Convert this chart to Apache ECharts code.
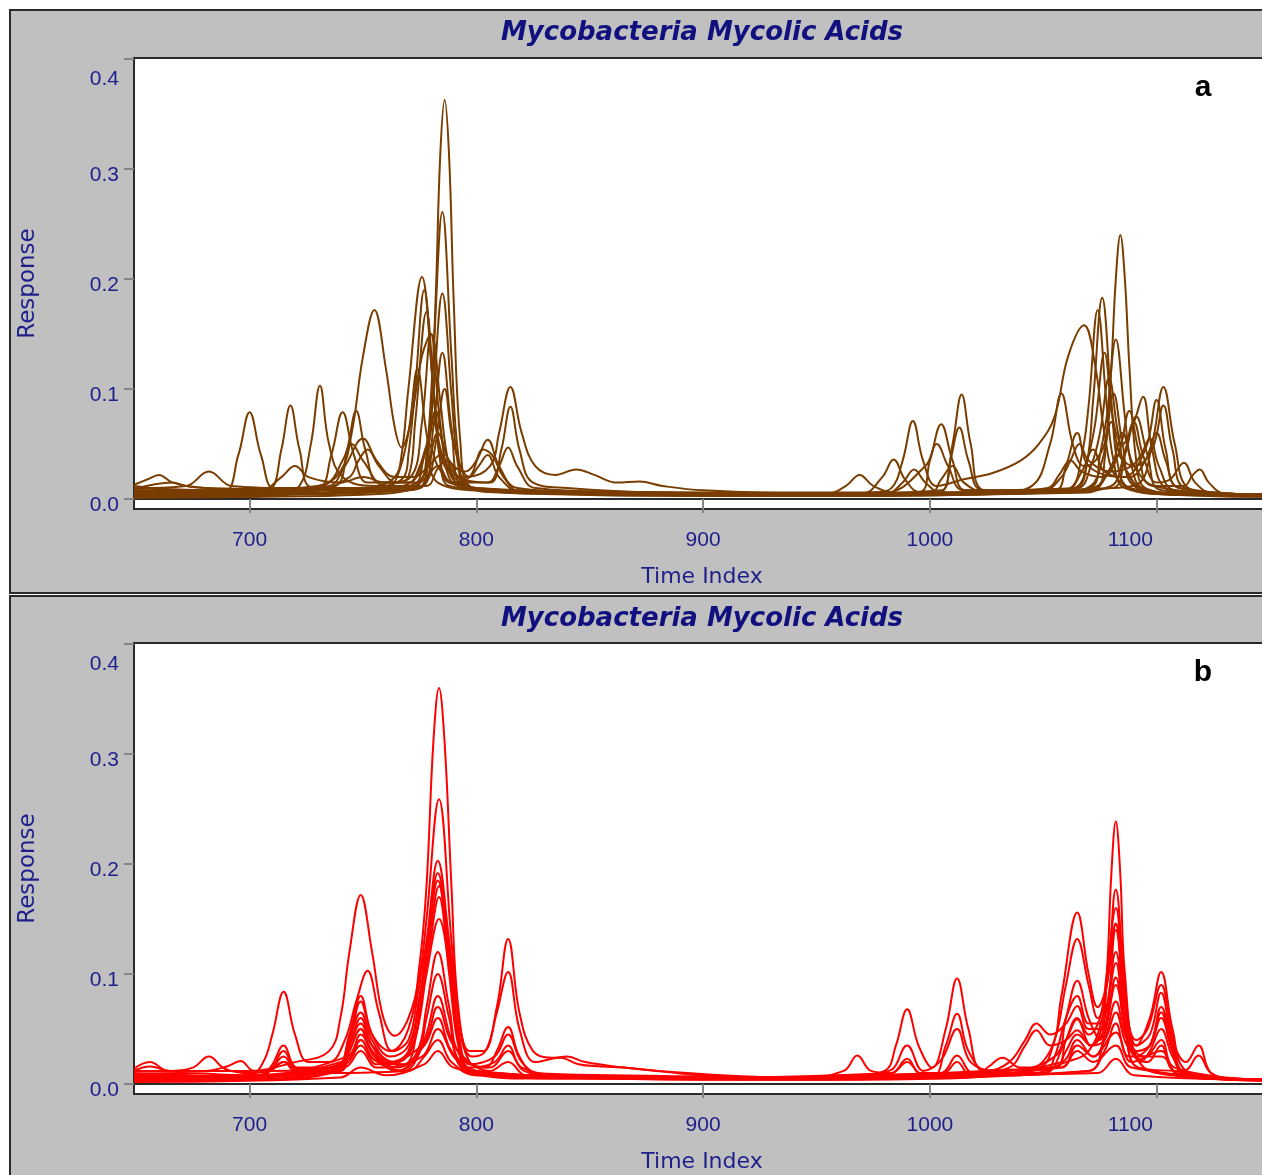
<!DOCTYPE html>
<html>
<head>
<meta charset="utf-8">
<title>Mycobacteria Mycolic Acids</title>
<script src="https://cdn.jsdelivr.net/npm/echarts@6.0.0/dist/echarts.min.js"></script>
<style>
  html, body { margin: 0; padding: 0; overflow: hidden; background: #ffffff; }
  #chart { width: 1300px; height: 1175px; }
</style>
</head>
<body>
<div id="chart"></div>
<script>
// Axis ticks
const timeTicks = [700, 800, 900, 1000, 1100];
const responseTicks = [0, 0.1, 0.2, 0.3, 0.4];

// Panel a: unaligned chromatograms, [time index, response]
const runA01 = [[649,.012],[662,.009],[680,.006],[700,.005],[730,.006],[755,.007],[768,.009],[776,.012],[779,.05],[782,.18],[784,.31],[786,.363],[788,.31],[790,.18],[793,.05],[797,.012],[810,.007],[850,.005],[900,.004],[950,.003],[1000,.004],[1040,.006],[1060,.008],[1074,.012],[1077,.035],[1080,.12],[1082,.2],[1084,.24],[1086,.2],[1088,.12],[1091,.035],[1095,.01],[1110,.005],[1150,.004]];
const runA02 = [[649,.004],[680,.004],[720,.005],[750,.008],[766,.01],[775,.015],[778,.04],[781,.13],[785,.261],[789,.13],[792,.04],[796,.012],[810,.006],[860,.004],[920,.003],[995,.004],[1005,.006],[1010,.05],[1014,.095],[1018,.05],[1024,.008],[1050,.006],[1064,.01],[1069,.03],[1072,.09],[1076,.183],[1080,.09],[1083,.03],[1088,.01],[1110,.004],[1150,.003]];
const runA03 = [[649,.006],[690,.004],[730,.005],[760,.007],[775,.01],[778,.03],[781,.095],[785,.187],[789,.095],[792,.03],[796,.01],[820,.006],[880,.004],[960,.003],[1040,.005],[1080,.01],[1092,.014],[1098,.05],[1103,.102],[1108,.05],[1114,.01],[1130,.004],[1150,.003]];
const runA04 = [[649,.008],[690,.006],[715,.008],[722,.012],[727,.05],[731,.103],[735,.05],[741,.02],[755,.012],[764,.02],[767,.04],[770,.1],[776,.202],[781,.1],[784,.035],[788,.012],[810,.008],[860,.005],[930,.004],[975,.006],[983,.01],[988,.035],[992.5,.071],[997,.035],[1003,.012],[1015,.018],[1028,.024],[1040,.035],[1048,.05],[1055,.075],[1061,.13],[1068,.158],[1073,.12],[1077,.06],[1082,.02],[1092,.008],[1120,.004],[1150,.004]];
const runA05 = [[649,.01],[690,.008],[730,.012],[740,.025],[745,.06],[750,.13],[755,.172],[760,.12],[764,.065],[767,.047],[771,.07],[776,.13],[780,.15],[784,.09],[788,.03],[793,.012],[810,.008],[860,.005],[950,.004],[995,.006],[1000,.035],[1005,.068],[1010,.035],[1016,.008],[1060,.008],[1072,.012],[1075,.04],[1078,.075],[1082,.145],[1086,.075],[1089,.03],[1094,.01],[1120,.004],[1150,.004]];
const runA06 = [[649,.005],[688,.006],[695,.04],[700,.079],[705,.04],[712,.008],[740,.008],[760,.01],[765,.02],[770,.06],[774,.118],[778,.06],[783,.015],[810,.007],[870,.005],[960,.004],[1050,.006],[1065,.01],[1070,.04],[1073,.07],[1077,.133],[1081,.07],[1085,.05],[1090,.07],[1094,.093],[1098,.045],[1104,.01],[1120,.004],[1150,.003]];
const runA07 = [[649,.004],[700,.005],[709,.008],[714,.045],[718,.085],[722,.045],[728,.01],[760,.008],[776,.012],[781,.065],[785,.133],[789,.065],[794,.012],[820,.006],[900,.004],[1030,.006],[1045,.012],[1053,.05],[1058,.096],[1063,.05],[1068,.03],[1073,.035],[1077,.05],[1081,.096],[1085,.05],[1090,.012],[1110,.004],[1150,.004]];
const runA08 = [[649,.008],[700,.008],[730,.01],[736,.04],[741,.079],[746,.04],[752,.015],[764,.015],[770,.02],[773,.07],[778,.17],[782,.08],[786,.03],[795,.02],[806,.03],[810,.06],[815,.102],[820,.06],[826,.03],[835,.022],[844,.027],[852,.022],[862,.015],[872,.016],[882,.012],[900,.008],[950,.005],[1005,.008],[1009,.035],[1013,.065],[1017,.035],[1023,.008],[1050,.006],[1062,.01],[1067,.04],[1070,.085],[1074,.172],[1078,.085],[1081,.035],[1086,.01],[1110,.004],[1150,.004]];
const runA09 = [[649,.006],[720,.007],[738,.012],[743,.045],[747,.08],[751,.045],[757,.015],[770,.015],[778,.045],[782,.08],[786,.045],[792,.02],[806,.015],[811,.045],[815,.084],[819,.045],[825,.015],[840,.01],[880,.006],[970,.005],[979,.02],[984,.036],[989,.018],[996,.006],[1060,.007],[1071,.012],[1076,.035],[1080,.07],[1084,.04],[1090,.03],[1098,.045],[1103,.085],[1107,.045],[1113,.01],[1150,.004]];
const runA10 = [[649,.01],[672,.012],[682,.025],[692,.012],[720,.01],[760,.01],[774,.015],[779,.035],[783,.06],[788,.035],[795,.025],[800,.035],[805,.054],[810,.03],[818,.01],[850,.006],[950,.004],[1060,.006],[1080,.012],[1085,.035],[1090,.07],[1094,.04],[1100,.015],[1106,.018],[1112,.033],[1117,.015],[1125,.005],[1150,.004]];
const runA11 = [[649,.013],[655,.018],[660,.022],[666,.015],[680,.01],[720,.009],[760,.01],[771,.015],[775,.03],[779,.05],[783,.03],[790,.015],[805,.015],[810,.03],[814,.047],[818,.03],[826,.01],[870,.006],[955,.005],[963,.012],[969,.022],[975,.012],[985,.006],[1070,.008],[1080,.03],[1085,.06],[1090,.03],[1100,.012],[1112,.012],[1116,.022],[1119,.027],[1123,.015],[1130,.005],[1150,.004]];
const runA12 = [[649,.009],[666,.015],[672,.012],[700,.008],[735,.012],[742,.03],[750,.055],[756,.035],[764,.02],[772,.02],[779,.03],[784,.04],[790,.02],[800,.01],[850,.007],[940,.005],[1050,.008],[1058,.02],[1062,.035],[1066,.05],[1070,.035],[1080,.025],[1089,.03],[1093,.04],[1097,.055],[1101,.03],[1108,.008],[1150,.004]];
const runA13 = [[649,.005],[705,.008],[714,.02],[720,.03],[726,.02],[740,.015],[750,.02],[760,.015],[771,.02],[776,.07],[780,.15],[784,.07],[789,.02],[800,.01],[850,.006],[980,.006],[998,.03],[1003,.05],[1008,.03],[1015,.008],[1065,.01],[1071,.03],[1075,.06],[1079,.11],[1083,.06],[1088,.02],[1100,.006],[1150,.004]];
const runA14 = [[649,.003],[700,.003],[730,.008],[744,.02],[748,.035],[752,.045],[757,.03],[765,.015],[773,.015],[777,.04],[781,.07],[785,.04],[792,.012],[830,.006],[980,.004],[988,.015],[993,.027],[998,.015],[1006,.005],[1060,.008],[1067,.025],[1072,.045],[1077,.025],[1088,.02],[1095,.035],[1100,.06],[1104,.035],[1110,.01],[1150,.004]];
const runA15 = [[649,.002],[700,.003],[725,.01],[735,.015],[741,.035],[745,.05],[750,.035],[760,.012],[778,.012],[783,.028],[787,.035],[792,.02],[800,.008],[840,.005],[1000,.005],[1005,.018],[1010,.03],[1015,.015],[1025,.006],[1052,.01],[1057,.022],[1062,.035],[1067,.025],[1076,.02],[1083,.04],[1088,.08],[1092,.045],[1098,.012],[1150,.003]];
const runA16 = [[649,.001],[700,.002],[750,.004],[770,.008],[778,.02],[783,.03],[789,.015],[797,.02],[803,.045],[807,.04],[812,.02],[820,.006],[900,.003],[1070,.006],[1079,.025],[1083,.04],[1087,.025],[1095,.006],[1150,.002]];
const runA17 = [[649,.007],[700,.006],[745,.01],[760,.012],[768,.02],[770,.04],[773,.1],[777,.19],[781,.1],[784,.04],[788,.015],[820,.007],[950,.004],[1055,.008],[1060,.03],[1065,.06],[1070,.03],[1085,.02],[1095,.045],[1100,.09],[1104,.045],[1110,.01],[1150,.004]];
const runA18 = [[649,.004],[700,.004],[770,.008],[778,.015],[782,.05],[786,.1],[790,.05],[797,.02],[801,.03],[805,.04],[810,.02],[820,.006],[950,.003],[1080,.01],[1086,.04],[1091,.075],[1096,.04],[1102,.008],[1150,.003]];

// Panel b: aligned chromatograms, [time index, response]
const runB01 = [[649,.008],[700,.006],[709,.012],[715,.03],[721,.014],[738,.015],[744,.04],[749,.075],[754,.045],[762,.03],[770,.05],[775,.11],[778,.18],[781,.31],[783.5,.36],[786,.31],[789,.18],[792,.07],[797,.03],[803,.03],[809,.07],[814,.132],[819,.065],[825,.03],[833,.024],[840,.025],[848,.02],[865,.015],[880,.012],[900,.008],[950,.005],[982,.012],[990,.035],[997,.012],[1005,.022],[1012,.05],[1018,.02],[1030,.012],[1055,.025],[1060,.06],[1065,.094],[1070,.06],[1075,.04],[1078,.1],[1080,.19],[1082,.239],[1084,.19],[1086,.1],[1091,.035],[1097,.045],[1102,.083],[1107,.04],[1113,.02],[1118.5,.035],[1124,.01],[1135,.004],[1150,.004]];
const runB02 = [[649,.012],[656,.016],[665,.012],[700,.012],[720,.02],[735,.03],[740,.06],[744,.12],[749,.172],[754,.12],[759,.06],[764,.044],[770,.06],[775,.1],[778,.15],[783.5,.259],[789,.13],[793,.05],[798,.025],[804,.03],[809,.065],[814,.102],[819,.05],[826,.02],[837,.024],[845,.018],[855,.016],[865,.015],[880,.012],[920,.007],[960,.005],[1000,.006],[1040,.01],[1053,.03],[1058,.08],[1065,.156],[1070,.1],[1074,.07],[1078,.09],[1082,.146],[1086,.075],[1091,.035],[1097,.06],[1102,.102],[1107,.05],[1113,.012],[1130,.005],[1150,.004]];
const runB03 = [[649,.006],[700,.008],[706,.02],[710,.045],[715,.084],[720,.045],[726,.02],[735,.02],[742,.04],[747,.075],[752,.103],[757,.065],[763,.03],[770,.04],[774,.08],[778,.13],[783,.203],[788,.13],[792,.06],[797,.02],[804,.015],[809,.03],[814,.052],[819,.025],[826,.01],[860,.008],[960,.006],[980,.012],[985,.035],[990,.068],[995,.035],[1001,.015],[1007,.05],[1012,.096],[1017,.05],[1024,.012],[1048,.015],[1055,.04],[1060,.09],[1065,.132],[1070,.09],[1074,.06],[1078,.09],[1082,.177],[1086,.09],[1091,.03],[1097,.035],[1102,.07],[1107,.035],[1113,.008],[1150,.004]];
const runB04 = [[649,.004],[700,.005],[709,.015],[715,.035],[721,.015],[738,.015],[744,.045],[749,.08],[754,.045],[762,.025],[770,.035],[775,.08],[778,.12],[783,.192],[788,.12],[792,.05],[797,.018],[808,.025],[814,.045],[820,.02],[830,.008],[900,.005],[1000,.006],[1007,.035],[1012,.064],[1017,.03],[1025,.012],[1035,.02],[1042,.04],[1047,.055],[1053,.045],[1060,.055],[1065,.071],[1070,.05],[1076,.05],[1082,.14],[1086,.07],[1091,.03],[1097,.035],[1102,.06],[1107,.03],[1114,.006],[1150,.004]];
const runB05 = [[649,.01],[700,.007],[740,.015],[744,.04],[749,.065],[754,.04],[762,.02],[770,.03],[775,.08],[778,.12],[783,.185],[788,.11],[792,.04],[797,.015],[808,.02],[814,.035],[820,.015],[840,.008],[940,.005],[962,.012],[968,.026],[974,.012],[983,.01],[990,.023],[996,.01],[1050,.01],[1060,.04],[1065,.059],[1071,.035],[1077,.05],[1082,.097],[1086,.05],[1092,.015],[1112,.012],[1118.5,.026],[1124,.01],[1135,.004],[1150,.004]];
const runB06 = [[649,.005],[700,.004],[738,.012],[744,.035],[749,.06],[754,.035],[762,.018],[771,.03],[776,.09],[779,.13],[783.5,.18],[788,.11],[792,.04],[797,.012],[830,.006],[950,.004],[1005,.01],[1012,.026],[1019,.01],[1035,.015],[1042,.035],[1047,.049],[1053,.035],[1060,.04],[1065,.049],[1071,.035],[1077,.04],[1082,.065],[1087,.035],[1096,.02],[1102,.035],[1108,.012],[1150,.004]];
const runB07 = [[649,.003],[705,.006],[710,.015],[715,.025],[721,.012],[740,.012],[744,.03],[749,.05],[754,.03],[765,.012],[774,.03],[778,.07],[783,.12],[788,.07],[793,.025],[806,.015],[814,.03],[821,.012],[840,.006],[1000,.005],[1058,.02],[1065,.04],[1072,.025],[1082,.047],[1089,.02],[1102,.03],[1109,.01],[1150,.003]];
const runB08 = [[649,.009],[670,.01],[700,.008],[743,.025],[749,.045],[755,.025],[765,.012],[774,.025],[778,.06],[783,.1],[788,.06],[793,.02],[810,.01],[860,.006],[1020,.008],[1026,.016],[1032,.024],[1040,.015],[1058,.015],[1065,.03],[1072,.02],[1082,.035],[1089,.015],[1150,.004]];
const runB09 = [[649,.014],[656,.02],[664,.012],[675,.015],[682,.025],[689,.014],[700,.01],[709,.012],[715,.02],[721,.01],[743,.022],[749,.04],[755,.022],[768,.012],[777,.04],[783,.08],[789,.04],[796,.012],[850,.005],[983,.01],[990,.02],[997,.008],[1074,.01],[1082,.023],[1090,.008],[1150,.004]];
const runB10 = [[649,.006],[700,.006],[742,.018],[749,.035],[756,.018],[776,.035],[783,.07],[790,.035],[806,.012],[814,.02],[822,.008],[900,.005],[1055,.015],[1060,.03],[1065,.045],[1071,.035],[1077,.06],[1082,.12],[1086,.06],[1092,.015],[1150,.004]];
const runB11 = [[649,.012],[680,.012],[690,.016],[696,.021],[702,.012],[740,.015],[744,.03],[749,.05],[754,.03],[765,.015],[777,.035],[783,.06],[789,.03],[800,.01],[900,.006],[1006,.01],[1012,.02],[1018,.008],[1070,.012],[1077,.045],[1082,.09],[1087,.045],[1093,.02],[1097,.03],[1102,.05],[1107,.025],[1114,.006],[1150,.004]];
const runB12 = [[649,.003],[700,.004],[742,.015],[749,.03],[756,.015],[776,.025],[783,.05],[790,.025],[800,.008],[950,.004],[1058,.015],[1065,.035],[1072,.025],[1077,.04],[1082,.075],[1087,.04],[1095,.025],[1102,.04],[1108,.015],[1150,.004]];
const runB13 = [[649,.007],[705,.008],[715,.02],[725,.01],[770,.012],[777,.025],[783,.04],[789,.02],[800,.008],[950,.005],[1070,.012],[1077,.03],[1082,.055],[1088,.025],[1102,.025],[1110,.008],[1150,.004]];
const runB14 = [[649,.002],[740,.006],[749,.015],[760,.008],[777,.018],[783,.03],[790,.015],[820,.005],[1055,.015],[1060,.04],[1065,.06],[1070,.045],[1075,.06],[1078,.1],[1082,.16],[1086,.08],[1091,.025],[1100,.01],[1150,.003]];
const runB15 = [[649,.004],[700,.004],[740,.012],[744,.035],[749,.055],[754,.035],[764,.02],[772,.035],[776,.08],[779,.12],[783.5,.17],[788,.1],[792,.035],[797,.012],[840,.006],[1040,.008],[1060,.02],[1070,.03],[1076,.06],[1078,.09],[1082,.145],[1086,.075],[1091,.04],[1096,.05],[1102,.09],[1107,.045],[1113,.01],[1150,.004]];
const runB16 = [[649,.008],[700,.007],[743,.022],[749,.04],[755,.022],[768,.018],[774,.05],[778,.1],[783.5,.15],[789,.09],[793,.03],[798,.012],[880,.006],[1050,.01],[1055,.025],[1060,.06],[1065,.08],[1070,.055],[1075,.055],[1078,.07],[1082,.11],[1086,.055],[1091,.025],[1097,.035],[1102,.065],[1107,.03],[1113,.008],[1150,.004]];

const panelARuns = [runA01, runA02, runA03, runA04, runA05, runA06, runA07, runA08, runA09,
                    runA10, runA11, runA12, runA13, runA14, runA15, runA16, runA17, runA18];
const panelBRuns = [runB01, runB02, runB03, runB04, runB05, runB06, runB07, runB08,
                    runB09, runB10, runB11, runB12, runB13, runB14, runB15, runB16];

const chartTitle = 'Mycobacteria Mycolic Acids';
const panelLetters = ['a', 'b'];

// Layout
const LABEL_BLUE = '#1f1f8c';
const TITLE_BLUE = '#10107f';
const PANEL_GRAY = '#c0c0c0';
const FRAME = '#2a2a2a';
const panelTops = [10, 596];
const gridTops = [58, 643];
const PLOT_LEFT = 134, PLOT_WIDTH = 1136, PLOT_HEIGHT = 451;

const tickFont = { fontFamily: '"Liberation Sans", Arial, sans-serif', fontSize: 21, color: LABEL_BLUE };

function makeXAxis(i) {
  return {
    type: 'value', gridIndex: i, min: 649, max: 1150,
    name: 'Time Index', nameLocation: 'middle', nameGap: 57,
    nameTextStyle: { fontFamily: '"DejaVu Sans", Verdana, sans-serif', fontSize: 22, color: LABEL_BLUE },
    axisLine: { show: true, lineStyle: { color: FRAME, width: 2 } },
    axisTick: { show: true, customValues: timeTicks, length: 14, lineStyle: { color: '#858585', width: 2 } },
    axisLabel: {
      customValues: timeTicks, margin: 21, ...tickFont,
      // the last label sits a little left of its tick
      formatter: v => v === 1100 ? '1100' + '\u00a0'.repeat(9) : String(v)
    },
    splitLine: { show: false }
  };
}

function makeYAxis(i) {
  const rich = {
    n: { ...tickFont, padding: [12, 0, 0, 0] },
    t: { ...tickFont, padding: [40, 0, 0, 0] }
  };
  return {
    type: 'value', gridIndex: i, min: -0.009, max: 0.401,
    name: 'Response', nameLocation: 'middle', nameGap: 94, nameRotate: 90,
    nameTextStyle: { fontFamily: '"DejaVu Sans", Verdana, sans-serif', fontSize: 23, color: LABEL_BLUE },
    axisLine: { show: true, lineStyle: { color: FRAME, width: 2 } },
    axisTick: { show: true, customValues: responseTicks, length: 10, lineStyle: { color: '#858585', width: 2 } },
    axisLabel: {
      customValues: responseTicks, margin: 15, ...tickFont, rich,
      formatter: v => (Math.abs(v - 0.4) < 1e-9 ? '{t|' : '{n|') + v.toFixed(1) + '}'
    },
    splitLine: { show: false }
  };
}

function makeSeries(runs, i, color) {
  return runs.map((run, k) => ({
    name: panelLetters[i] + (k + 1),
    type: 'line', xAxisIndex: i, yAxisIndex: i,
    data: run, showSymbol: false, symbol: 'none',
    smooth: 0.4,
    lineStyle: { color, width: 2 },
    emphasis: { disabled: true },
    animation: false
  }));
}

const graphic = [];
panelTops.forEach((top, i) => {
  graphic.push({
    type: 'rect', z: -10, silent: true,
    shape: { x: 10, y: top, width: 1300, height: i === 0 ? 583 : 600 },
    style: { fill: PANEL_GRAY, stroke: FRAME, lineWidth: 2 }
  });
  graphic.push({
    type: 'text', z: 100, silent: true,
    style: {
      text: chartTitle, x: 702, y: top + 23, align: 'center', verticalAlign: 'middle',
      font: 'italic bold 26px "DejaVu Sans", Verdana, sans-serif', fill: TITLE_BLUE
    }
  });
  graphic.push({
    type: 'text', z: 100, silent: true,
    style: {
      text: panelLetters[i], x: 1203, y: gridTops[i] + 30, align: 'center', verticalAlign: 'middle',
      font: 'bold 30px "Liberation Sans", Arial, sans-serif', fill: '#000000'
    }
  });
});

const chart = echarts.init(document.getElementById('chart'), null, { renderer: 'canvas' });
chart.setOption({
  backgroundColor: '#ffffff',
  animation: false,
  graphic,
  grid: gridTops.map(top => ({
    left: PLOT_LEFT, top, width: PLOT_WIDTH, height: PLOT_HEIGHT,
    show: true, backgroundColor: '#ffffff', borderColor: FRAME, borderWidth: 2
  })),
  xAxis: [makeXAxis(0), makeXAxis(1)],
  yAxis: [makeYAxis(0), makeYAxis(1)],
  series: [
    ...makeSeries(panelARuns, 0, '#7a3d00'),
    ...makeSeries(panelBRuns, 1, '#ff0000')
  ]
});
</script>
</body>
</html>
